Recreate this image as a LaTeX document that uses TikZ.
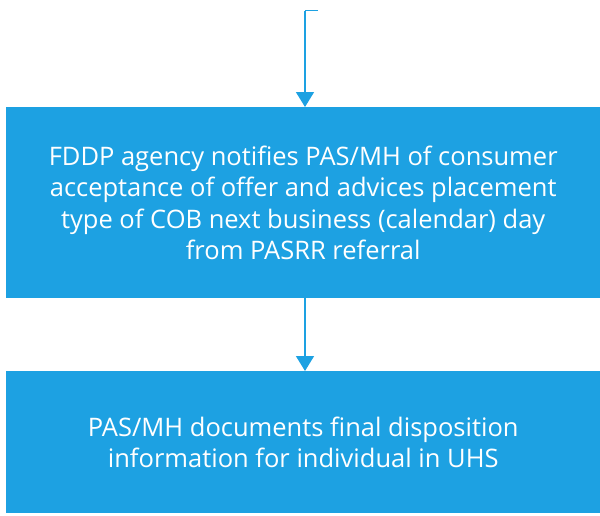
\documentclass[tikz,border=0pt]{standalone}
\usepackage{fontspec}
\setmainfont{Open Sans}
\usetikzlibrary{arrows.meta}
\definecolor{boxblue}{RGB}{29,161,226}
\begin{document}
\begin{tikzpicture}[x=1pt,y=1pt,
  flowbox/.style={fill=boxblue,draw=none,text=white,minimum width=594pt,inner sep=0pt,
    align=center,font=\fontsize{25.5}{31.5}\selectfont,anchor=north west},
  flowarrow/.style={draw=boxblue,line width=1.5pt,-{Triangle[width=18pt,length=15pt]}}]
\useasboundingbox (0,0) rectangle (600,-515);
\node[flowbox,minimum height=191pt] (b1) at (6,-107)
  {FDDP agency notifies PAS/MH of consumer\\acceptance of offer and advices placement\\type of COB next business (calendar) day\\from PASRR referral};
\node[flowbox,minimum height=142pt] (b2) at (6,-371)
  {PAS/MH documents final disposition\\information for individual in UHS};
\coordinate (s) at (318,-10.5);
\coordinate (c) at (305,-10.5);
\draw[draw=boxblue,line width=1.5pt] (s) -- (c);
\draw[flowarrow] (c) -- (c |- b1.north);
\draw[flowarrow] (c |- b1.south) -- (c |- b2.north);
\end{tikzpicture}
\end{document}
